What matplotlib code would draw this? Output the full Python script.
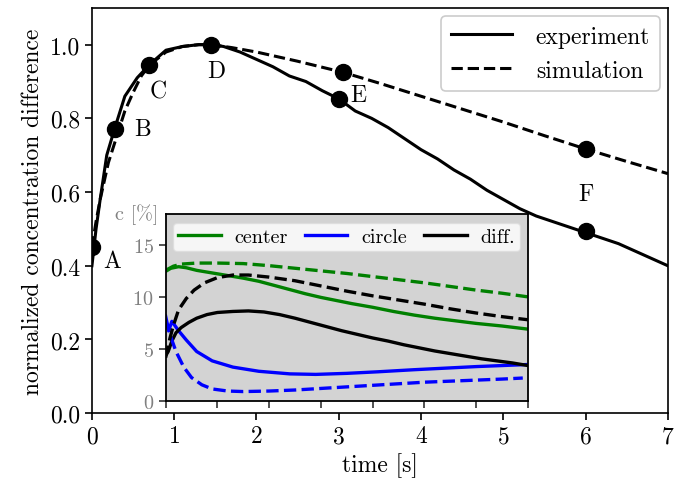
import matplotlib
matplotlib.use("Agg")
import matplotlib.pyplot as plt

plt.rcParams['font.family'] = 'serif'
plt.rcParams['font.serif'] = ['cmr10', 'DejaVu Serif']
plt.rcParams['mathtext.fontset'] = 'cm'
plt.rcParams['axes.formatter.use_mathtext'] = True
plt.rcParams['axes.unicode_minus'] = False

# ---- main chart data ----
t_exp = [0.0, 0.05, 0.1, 0.18, 0.28, 0.4, 0.55, 0.7, 0.9, 1.1, 1.3, 1.45, 1.6, 1.8, 2.0, 2.2,
         2.4, 2.6, 2.8, 3.0, 3.2, 3.4, 3.6, 3.8, 4.0, 4.2, 4.4, 4.6, 4.8, 5.0, 5.2, 5.4,
         5.6, 5.8, 6.0, 6.2, 6.4, 6.6, 6.8, 7.0]
y_exp = [0.40, 0.50, 0.58, 0.70, 0.775, 0.86, 0.91, 0.946, 0.985, 0.995, 1.0, 1.0, 0.995,
         0.98, 0.96, 0.94, 0.915, 0.90, 0.875, 0.853, 0.82, 0.80, 0.775, 0.745, 0.715,
         0.69, 0.66, 0.635, 0.605, 0.58, 0.555, 0.535, 0.52, 0.505, 0.49, 0.475, 0.46,
         0.44, 0.42, 0.40]
t_sim = [0.0, 0.05, 0.1, 0.2, 0.3, 0.4, 0.5, 0.6, 0.7, 0.9, 1.1, 1.3, 1.45, 1.7, 2.0, 2.5,
         3.05, 3.5, 4.0, 4.5, 5.0, 5.5, 6.0, 6.5, 7.0]
y_sim = [0.45, 0.52, 0.58, 0.68, 0.75, 0.82, 0.87, 0.915, 0.945, 0.98, 0.995, 1.0, 1.0,
         0.992, 0.98, 0.955, 0.925, 0.895, 0.86, 0.825, 0.79, 0.753, 0.717, 0.683, 0.65]

mark_labels = ['A', 'B', 'C', 'D', 'E', 'F']
mark_t_exp = [0.0, 0.28, 0.69, 1.45, 3.0, 6.0]
mark_y_exp = [0.45, 0.772, 0.946, 1.0, 0.853, 0.495]
mark_t_sim = [3.05, 6.0]
mark_y_sim = [0.925, 0.717]
label_t = [0.24, 0.62, 0.80, 1.51, 3.24, 6.01]
label_y = [0.413, 0.772, 0.872, 0.93, 0.864, 0.595]

# ---- inset data (c in %) ----
t_cen_exp = [0, 0.1, 0.25, 0.4, 0.6, 0.9, 1.2, 1.5, 1.8, 2.1, 2.4, 2.7, 3.0, 3.3, 3.6, 4.0,
             4.4, 4.8, 5.2, 5.6, 6.0, 6.5, 7.0]
c_cen_exp = [12.5, 12.8, 12.95, 12.85, 12.6, 12.35, 12.1, 11.85, 11.55, 11.15, 10.75,
             10.35, 10.0, 9.7, 9.4, 9.05, 8.65, 8.3, 8.0, 7.75, 7.5, 7.25, 6.95]
t_cen_sim = [0, 0.15, 0.3, 0.6, 1.0, 1.5, 2.0, 2.5, 3.0, 3.5, 4.0, 4.5, 5.0, 5.5, 6.0, 6.5, 7.0]
c_cen_sim = [12.6, 13.0, 13.2, 13.3, 13.3, 13.25, 13.05, 12.8, 12.55, 12.3, 12.0, 11.7,
             11.4, 11.05, 10.7, 10.4, 10.05]
t_cir_exp = [0, 0.06, 0.12, 0.25, 0.4, 0.6, 0.9, 1.3, 1.8, 2.4, 2.9, 3.5, 4.1, 4.8, 5.4,
             6.0, 6.5, 7.0]
c_cir_exp = [8.2, 6.8, 7.7, 6.8, 5.9, 4.8, 3.9, 3.3, 2.9, 2.65, 2.6, 2.7, 2.85, 3.05,
             3.2, 3.35, 3.45, 3.55]
t_cir_sim = [0, 0.1, 0.2, 0.35, 0.5, 0.7, 0.9, 1.2, 1.5, 2.0, 2.5, 3.0, 3.5, 4.0, 4.5,
             5.0, 5.5, 6.0, 6.5, 6.9]
c_cir_sim = [7.8, 6.2, 4.8, 3.3, 2.3, 1.6, 1.2, 1.0, 0.95, 1.0, 1.1, 1.25, 1.4, 1.55,
             1.7, 1.85, 1.95, 2.05, 2.15, 2.25]
t_dif_exp = [0, 0.05, 0.12, 0.2, 0.3, 0.45, 0.6, 0.8, 1.0, 1.3, 1.6, 1.9, 2.2, 2.5, 2.8,
             3.1, 3.4, 3.7, 4.0, 4.3, 4.6, 4.9, 5.2, 5.5, 5.8, 6.1, 6.4, 6.7, 7.0]
c_dif_exp = [4.4, 4.8, 5.8, 6.6, 7.1, 7.6, 8.0, 8.35, 8.55, 8.65, 8.7, 8.6, 8.35, 8.0,
             7.6, 7.2, 6.8, 6.45, 6.1, 5.8, 5.45, 5.15, 4.85, 4.6, 4.35, 4.1, 3.9, 3.7, 3.45]
t_dif_sim = [0, 0.08, 0.15, 0.25, 0.4, 0.55, 0.75, 1.0, 1.3, 1.6, 2.0, 2.5, 3.0, 3.5, 4.0,
             4.5, 5.0, 5.5, 6.0, 6.5, 7.0]
c_dif_sim = [4.2, 6.0, 7.3, 8.8, 9.9, 10.7, 11.4, 11.9, 12.15, 12.15, 11.95, 11.6, 11.1,
             10.6, 10.15, 9.75, 9.35, 8.9, 8.5, 8.15, 7.85]

fig = plt.figure(figsize=(6.76, 4.89), dpi=100)
ax = fig.add_axes([0.136, 0.153, 0.852, 0.829])

ax.plot(t_exp, y_exp, color='black', lw=2.2, ls='-', label='experiment')
ax.plot(t_sim, y_sim, color='black', lw=2.2, ls='--', label='simulation')
ax.plot(mark_t_exp, mark_y_exp, 'o', color='black', ms=11.5, zorder=5)
ax.plot(mark_t_sim, mark_y_sim, 'o', color='black', ms=11.5, zorder=5)
for lab, lt, ly in zip(mark_labels, label_t, label_y):
    ax.text(lt, ly, lab, fontsize=17, ha='center', va='center')

ax.set_xlim(0, 7)
ax.set_ylim(0, 1.1)
ax.set_xticks(range(0, 8))
ax.set_yticks([0.0, 0.2, 0.4, 0.6, 0.8, 1.0])
ax.set_yticklabels(['0.0', '0.2', '0.4', '0.6', '0.8', '1.0'])
ax.tick_params(labelsize=17, width=1.2, length=5)
for s in ax.spines.values():
    s.set_linewidth(1.2)
ax.set_xlabel('time [s]', fontsize=17)
ax.set_ylabel('normalized concentration difference', fontsize=17)
leg = ax.legend(loc='upper right', fontsize=17, handlelength=2.6,
                borderaxespad=0.35, framealpha=1.0, handletextpad=1.0)
leg.get_frame().set_edgecolor('#cccccc')
leg.get_frame().set_linewidth(1.2)

# inset
axi = fig.add_axes([0.245, 0.177, 0.536, 0.383])
axi.set_facecolor('#d3d3d3')
axi.plot(t_cen_exp, c_cen_exp, color='green', lw=2.4, ls='-', label='center')
axi.plot(t_cir_exp, c_cir_exp, color='blue', lw=2.4, ls='-', label='circle')
axi.plot(t_dif_exp, c_dif_exp, color='black', lw=2.4, ls='-', label='diff.')
axi.plot(t_cen_sim, c_cen_sim, color='green', lw=2.4, ls='--')
axi.plot(t_cir_sim, c_cir_sim, color='blue', lw=2.4, ls='--')
axi.plot(t_dif_sim, c_dif_sim, color='black', lw=2.4, ls='--')
axi.set_xlim(0, 7)
axi.set_ylim(0, 18)
axi.set_xticks(range(0, 8))
axi.set_xticklabels([])
axi.set_yticks([0, 5, 10, 15])
axi.tick_params(labelsize=14.5, labelcolor='gray', width=1.2, length=5, color='#333333')
for s in axi.spines.values():
    s.set_linewidth(1.3)
axi.text(-0.02, 1.0, 'c [%]', transform=axi.transAxes, ha='right', va='center',
         fontsize=14.5, color='gray')
li = axi.legend(loc='upper center', ncol=3, fontsize=14.5, handlelength=2.1,
                columnspacing=0.85, borderaxespad=0.45, framealpha=0.8,
                borderpad=0.25, handletextpad=0.7)
li.get_frame().set_edgecolor('#dddddd')

fig.savefig('out.png', dpi=100)
